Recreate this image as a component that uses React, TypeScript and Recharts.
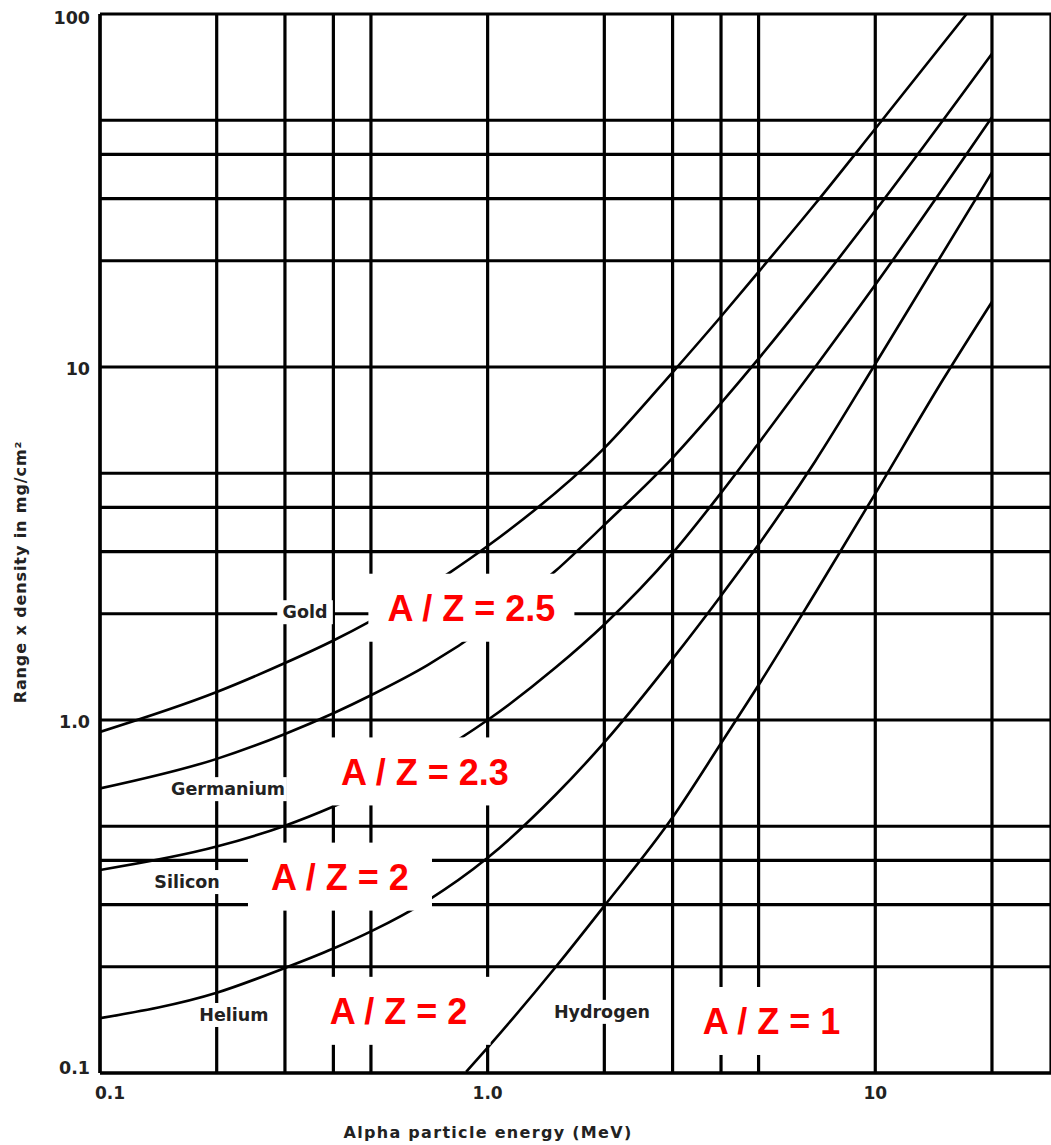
import React from "react";
import {
  LineChart,
  Line,
  XAxis,
  YAxis,
  CartesianGrid,
  ReferenceDot,
  Label,
} from "recharts";

// grid / tick values (log-log paper)
const energyTicks = [0.1, 0.2, 0.3, 0.4, 0.5, 1, 2, 3, 4, 5, 10, 20];
const rangeTicks = [0.1, 0.2, 0.3, 0.4, 0.5, 1, 2, 3, 4, 5, 10, 20, 30, 40, 50, 100];
const energyTickText: Record<string, string> = { "0.1": "0.1", "1": "1.0", "10": "10" };
const rangeTickText: Record<string, string> = { "0.1": "0.1", "1": "1.0", "10": "10", "100": "100" };

// range x density (mg/cm2) vs alpha energy (MeV)
const goldEnergy = [0.1, 0.2, 0.3, 0.4, 0.5, 0.8, 1, 2, 3, 4, 5, 7, 10, 17.2];
const goldRange = [0.925, 1.2, 1.45, 1.68, 1.91, 2.62, 3.11, 5.89, 9.66, 13.9, 18.6, 29.0, 47.3, 100];

const germaniumEnergy = [0.1, 0.2, 0.3, 0.4, 0.5, 0.7, 1, 1.5, 2, 3, 4, 5, 7, 10, 20];
const germaniumRange = [0.64, 0.776, 0.913, 1.045, 1.175, 1.43, 1.85, 2.65, 3.57, 5.53, 7.9, 10.56, 16.7, 27.7, 77.2];

const siliconEnergy = [0.1, 0.2, 0.3, 0.4, 0.5, 0.7, 1, 1.5, 2, 3, 4, 5, 7, 10, 20];
const siliconRange = [0.376, 0.438, 0.502, 0.569, 0.636, 0.778, 1.0, 1.41, 1.865, 2.97, 4.4, 6.08, 10.0, 17.1, 51.0];

const heliumEnergy = [0.1, 0.2, 0.3, 0.4, 0.5, 0.7, 1, 1.5, 2, 3, 4, 5, 7, 10, 20];
const heliumRange = [0.143, 0.1688, 0.1984, 0.2252, 0.2518, 0.308, 0.407, 0.615, 0.864, 1.49, 2.25, 3.14, 5.41, 10.2, 35.6];

const hydrogenEnergy = [0.88, 1, 1.5, 2, 3, 4, 5, 7, 10, 15, 20];
const hydrogenRange = [0.1007, 0.118, 0.2, 0.2975, 0.53, 0.859, 1.256, 2.29, 4.38, 9.26, 15.3];

// curve names and where they sit
const curveNames = ["Gold", "Germanium", "Silicon", "Helium", "Hydrogen"];
const curveNameAt = [
  [0.338, 2.02],
  [0.214, 0.637],
  [0.1677, 0.3475],
  [0.2216, 0.146],
  [1.972, 0.149],
];

// red A/Z annotations
const ratioTexts = ["A / Z = 2.5", "A / Z = 2.3", "A / Z = 2", "A / Z = 2", "A / Z = 1"];
const ratioAt = [
  [0.908, 2.08],
  [0.689, 0.715],
  [0.416, 0.36],
  [0.589, 0.15],
  [5.4, 0.1404],
];

const toPoints = (es: number[], vs: number[]) => es.map((e, i) => ({ e, v: vs[i] }));

const series = [
  { name: "Gold", data: toPoints(goldEnergy, goldRange) },
  { name: "Germanium", data: toPoints(germaniumEnergy, germaniumRange) },
  { name: "Silicon", data: toPoints(siliconEnergy, siliconRange) },
  { name: "Helium", data: toPoints(heliumEnergy, heliumRange) },
  { name: "Hydrogen", data: toPoints(hydrogenEnergy, hydrogenRange) },
];

const FONT = "'DejaVu Sans', sans-serif";

const XTick = (props: any) => {
  const { x, y, payload } = props;
  const label = energyTickText[String(payload.value)];
  if (!label) return <g />;
  const shift = payload.value === 0.1 ? 10 : 0;
  return (
    <text
      x={x + shift}
      y={y + 12}
      textAnchor="middle"
      dominantBaseline="central"
      fontFamily={FONT}
      fontWeight="bold"
      fontSize={17}
      fill="#222"
    >
      {label}
    </text>
  );
};

const YTick = (props: any) => {
  const { x, y, payload } = props;
  const label = rangeTickText[String(payload.value)];
  if (!label) return <g />;
  const shift = payload.value === 100 ? 4 : payload.value === 0.1 ? -5 : 2;
  return (
    <text
      x={x - 2}
      y={y + shift}
      textAnchor="end"
      dominantBaseline="central"
      fontFamily={FONT}
      fontWeight="bold"
      fontSize={17.5}
      fill="#222"
    >
      {label}
    </text>
  );
};

const CurveName = ({ cx, cy, text }: any) => {
  const w = text.length * 12.4 + 6;
  return (
    <g>
      <rect x={cx - w / 2} y={cy - 12} width={w} height={24} fill="#fff" />
      <text
        x={cx}
        y={cy}
        textAnchor="middle"
        dominantBaseline="central"
        fontFamily={FONT}
        fontWeight="bold"
        fontSize={17.5}
        fill="#222"
      >
        {text}
      </text>
    </g>
  );
};

const RatioNote = ({ cx, cy, text }: any) => {
  const w = text.length > 9 ? 206 : 184;
  return (
    <g>
      <rect x={cx - w / 2} y={cy - 34} width={w} height={68} fill="#fff" />
      <text
        x={cx}
        y={cy + 1}
        textAnchor="middle"
        dominantBaseline="central"
        fontFamily="'Liberation Sans', Arial, sans-serif"
        fontWeight="bold"
        fontSize={36}
        fill="#ff0000"
      >
        {text}
      </text>
    </g>
  );
};

export default function App() {
  return (
    <div style={{ position: "absolute", left: 0, top: 0, background: "#fff" }}>
      <LineChart
        width={1051}
        height={1145}
        margin={{ top: 14, right: 0, left: 0, bottom: 0 }}
      >
        <CartesianGrid stroke="#000" strokeWidth={3.2} />
        <XAxis
          dataKey="e"
          type="number"
          scale="log"
          domain={[0.1, 28.4]}
          ticks={energyTicks}
          allowDataOverflow
          height={72}
          tickLine={false}
          axisLine={{ stroke: "#000", strokeWidth: 3.2 }}
          tick={<XTick />}
          interval={0}
        >
          <Label
            content={() => (
              <text
                x={488}
                y={1138}
                textAnchor="middle"
                fontFamily={FONT}
                fontWeight="bold"
                fontSize={16}
                letterSpacing={1.3}
                fill="#222"
              >
                Alpha particle energy (MeV)
              </text>
            )}
          />
        </XAxis>
        <YAxis
          dataKey="v"
          type="number"
          scale="log"
          domain={[0.1, 100]}
          ticks={rangeTicks}
          allowDataOverflow
          width={100}
          tickLine={false}
          axisLine={{ stroke: "#000", strokeWidth: 3.2 }}
          tick={<YTick />}
          interval={0}
        >
          <Label
            content={() => (
              <text
                x={20}
                y={572}
                transform="rotate(-90 20 572)"
                textAnchor="middle"
                dominantBaseline="central"
                fontFamily={FONT}
                fontWeight="bold"
                fontSize={16}
                letterSpacing={0.9}
                fill="#222"
              >
                Range x density in mg/cm²
              </text>
            )}
          />
        </YAxis>
        {series.map((s) => (
          <Line
            key={s.name}
            data={s.data}
            dataKey="v"
            name={s.name}
            type="monotone"
            stroke="#000"
            strokeWidth={2.6}
            dot={false}
            activeDot={false}
            isAnimationActive={false}
          />
        ))}
        {curveNames.map((t, i) => (
          <ReferenceDot
            key={`n-${i}`}
            x={curveNameAt[i][0]}
            y={curveNameAt[i][1]}
            r={0}
            ifOverflow="visible"
            zIndex={1500}
            shape={(p: any) => <CurveName cx={p.cx} cy={p.cy} text={t} />}
          />
        ))}
        {ratioTexts.map((t, i) => (
          <ReferenceDot
            key={`r-${i}`}
            x={ratioAt[i][0]}
            y={ratioAt[i][1]}
            r={0}
            ifOverflow="visible"
            zIndex={1600}
            shape={(p: any) => <RatioNote cx={p.cx} cy={p.cy} text={t} />}
          />
        ))}
      </LineChart>
    </div>
  );
}
